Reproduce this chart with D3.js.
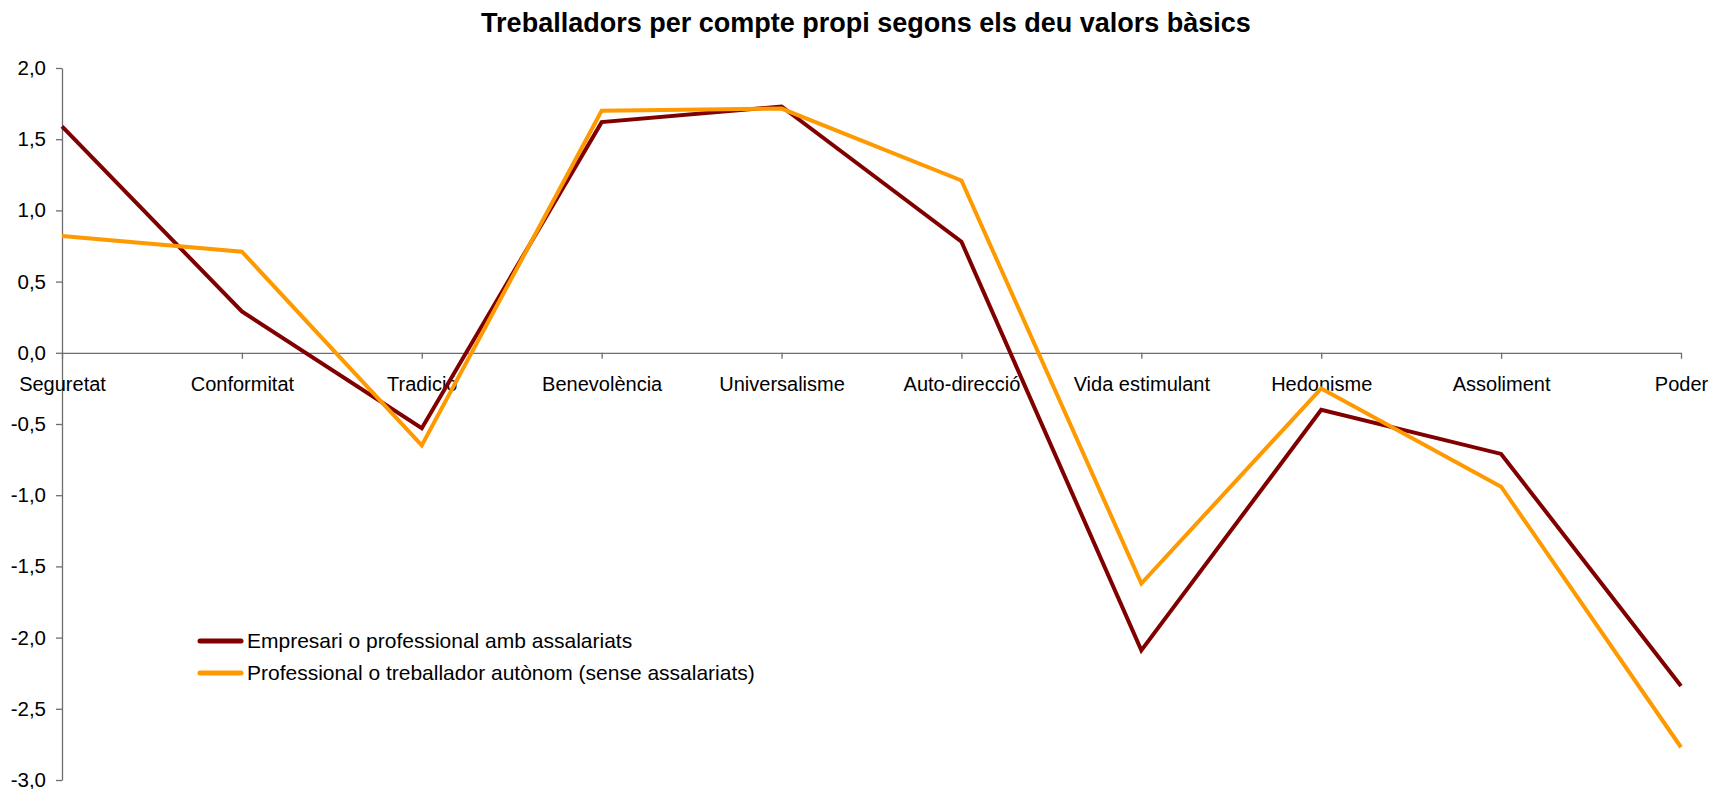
<html>
<head>
<meta charset="utf-8">
<title>Treballadors per compte propi</title>
<script src="https://d3js.org/d3.v7.min.js"></script>
<style>
  body { margin: 0; background: #fff; }
  text { font-family: "Liberation Sans", Arial, sans-serif; fill: #000; }
</style>
</head>
<body>
<script>
// dades
var valors = ["Seguretat", "Conformitat", "Tradició", "Benevolència", "Universalisme",
  "Auto-direcció", "Vida estimulant", "Hedonisme", "Assoliment", "Poder"];
var empresari = [1.59, 0.29, -0.53, 1.62, 1.73, 0.78, -2.09, -0.40, -0.71, -2.34];
var autonom = [0.82, 0.71, -0.65, 1.70, 1.715, 1.21, -1.62, -0.25, -0.94, -2.77];
var yTicks = [2, 1.5, 1, 0.5, 0, -0.5, -1, -1.5, -2, -2.5, -3];
var series = [
  { name: "Empresari o professional amb assalariats", values: empresari, color: "#800000" },
  { name: "Professional o treballador autònom (sense assalariats)", values: autonom, color: "#ff9900" }
];

var width = 1717, height = 789;
var plot = { left: 62, right: 1681, top: 68, bottom: 780 };

var svg = d3.select("body").append("svg")
  .attr("width", width)
  .attr("height", height);

svg.append("text")
  .attr("x", 866)
  .attr("y", 32)
  .attr("text-anchor", "middle")
  .attr("font-size", 27)
  .attr("font-weight", "bold")
  .text("Treballadors per compte propi segons els deu valors bàsics");

var x = d3.scalePoint().domain(valors).range([plot.left, plot.right]);
var y = d3.scaleLinear().domain([-3, 2]).range([plot.bottom, plot.top]);

var fmt = d => d3.format(".1f")(d).replace(".", ",").replace("−", "-");

// eix Y
var yAxis = svg.append("g")
  .attr("transform", "translate(" + plot.left + ",0)")
  .call(d3.axisLeft(y).tickValues(yTicks).tickFormat(fmt).tickSizeInner(6).tickSizeOuter(0).tickPadding(10));
yAxis.selectAll("text").attr("font-size", 20.5).attr("font-family", "Liberation Sans, Arial, sans-serif");

// eix X a zero
var xAxis = svg.append("g")
  .attr("transform", "translate(0," + y(0) + ")")
  .call(d3.axisBottom(x).tickSizeInner(6).tickSizeOuter(0).tickPadding(18));
xAxis.selectAll("text").attr("font-size", 20).attr("font-family", "Liberation Sans, Arial, sans-serif");

svg.selectAll(".domain, .tick line").attr("stroke", "#6e6e6e").attr("stroke-width", 1.3);

// línies
var line = d3.line()
  .x((d, i) => x(valors[i]))
  .y(d => y(d));

svg.append("g").selectAll("path")
  .data(series)
  .join("path")
    .attr("fill", "none")
    .attr("stroke", d => d.color)
    .attr("stroke-width", 4)
    .attr("stroke-linejoin", "miter")
    .attr("d", d => line(d.values));

// llegenda
var legend = svg.append("g").attr("transform", "translate(200,641)");
var items = legend.selectAll("g")
  .data(series)
  .join("g")
    .attr("transform", (d, i) => "translate(0," + i * 32 + ")");
items.append("line")
  .attr("x1", 0).attr("x2", 41)
  .attr("stroke", d => d.color)
  .attr("stroke-width", 5)
  .attr("stroke-linecap", "round");
items.append("text")
  .attr("x", 47)
  .attr("dy", "0.35em")
  .attr("font-size", 21)
  .text(d => d.name);
</script>
</body>
</html>
